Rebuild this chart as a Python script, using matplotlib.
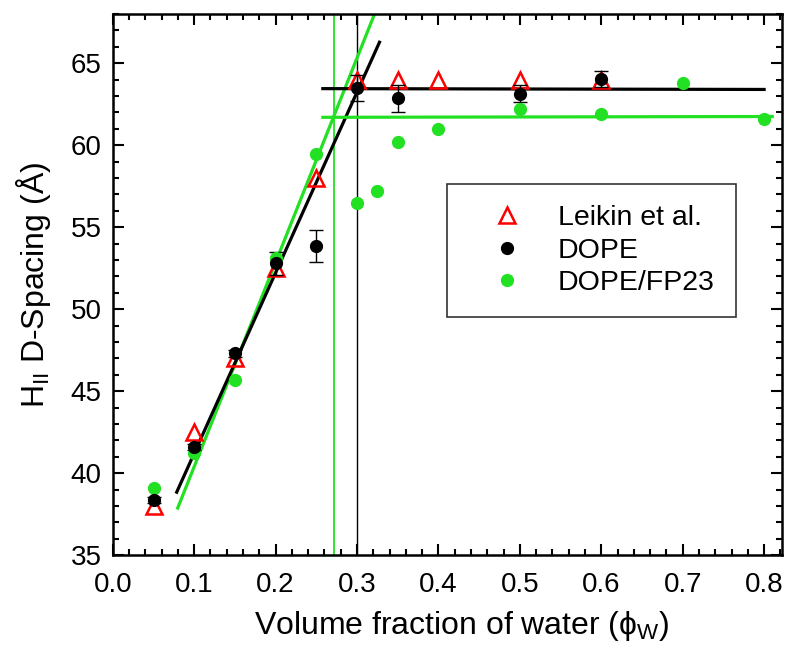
import numpy as np
import matplotlib
matplotlib.use("Agg")
import matplotlib.pyplot as plt
from matplotlib.ticker import MultipleLocator, FormatStrFormatter
from matplotlib.lines import Line2D

plt.rcParams['font.family'] = ['Liberation Sans', 'DejaVu Sans']
plt.rcParams['mathtext.fontset'] = 'custom'
plt.rcParams['mathtext.rm'] = 'Liberation Sans'
plt.rcParams['mathtext.it'] = 'Liberation Sans:italic'

# Leikin et al.
leikin_x = [0.05, 0.10, 0.15, 0.20, 0.25, 0.30, 0.35, 0.40, 0.50, 0.60]
leikin_y = [38.0, 42.5, 47.0, 52.5, 58.0, 64.0, 64.0, 64.0, 64.0, 64.0]

# DOPE
dope_x = [0.05, 0.10, 0.15, 0.20, 0.25, 0.30, 0.35, 0.50, 0.60]
dope_y = [38.35, 41.6, 47.3, 52.8, 53.85, 63.5, 62.85, 63.15, 64.05]
dope_err = [0.2, 0.2, 0.2, 0.7, 1.0, 0.8, 0.85, 0.5, 0.5]

# DOPE/FP23
fp_x = [0.05, 0.10, 0.15, 0.20, 0.25, 0.30, 0.325, 0.35, 0.40, 0.50, 0.60, 0.70, 0.80]
fp_y = [39.1, 41.2, 45.7, 53.1, 59.45, 56.45, 57.2, 60.2, 61.0, 62.2, 61.9, 63.8, 61.6]

# fitted lines (endpoints)
dope_fit_x = [0.0785, 0.3276]
dope_fit_y = [38.84, 66.28]
fp_fit_x = [0.0797, 0.3215]
fp_fit_y = [37.87, 68.0]
dope_flat_x = [0.258, 0.80]
dope_flat_y = [63.45, 63.4]
fp_flat_x = [0.258, 0.81]
fp_flat_y = [61.7, 61.75]
dope_vline = 0.30
fp_vline = 0.272

green = '#22e022'

fig = plt.figure(figsize=(8, 6.68), dpi=100)
ax = fig.add_axes([0.141, 0.169, 0.8365, 0.81])

ax.axvline(fp_vline, color=green, lw=1.3)
ax.axvline(dope_vline, color='black', lw=1.0)
ax.plot(fp_fit_x, fp_fit_y, color=green, lw=2.3)
ax.plot(dope_fit_x, dope_fit_y, color='black', lw=2.3)
ax.plot(fp_flat_x, fp_flat_y, color=green, lw=2.3)
ax.plot(dope_flat_x, dope_flat_y, color='black', lw=2.3)

ax.plot(leikin_x, leikin_y, linestyle='none', marker='^', ms=12, mfc='none',
        mec='red', mew=1.8)
ax.errorbar(dope_x, dope_y, yerr=dope_err, fmt='o', color='black', ms=8.5,
            capsize=5, elinewidth=1, capthick=1)
ax.plot(fp_x, fp_y, linestyle='none', marker='o', ms=8.5, color=green)

ax.set_xlim(0, 0.822)
ax.set_ylim(35, 68)
ax.xaxis.set_major_locator(MultipleLocator(0.1))
ax.xaxis.set_minor_locator(MultipleLocator(0.02))
ax.yaxis.set_major_locator(MultipleLocator(5))
ax.yaxis.set_minor_locator(MultipleLocator(1))
ax.xaxis.set_major_formatter(FormatStrFormatter('%.1f'))
ax.tick_params(which='both', direction='in', top=True, right=True, labelsize=20,
               width=1.5)
ax.tick_params(which='major', length=8)
ax.tick_params(which='minor', length=4)
ax.tick_params(axis='x', which='major', pad=12)
ax.tick_params(axis='y', which='major', pad=8)
for s in ax.spines.values():
    s.set_linewidth(1.8)

ax.set_xlabel('Volume fraction of water (ϕ$_{\\rm W}$)', fontsize=23, labelpad=5)
ax.xaxis.set_label_coords(0.522, -0.1)
ax.xaxis.label.set_va('top')
ax.set_ylabel('H$_{\\rm II}$ D-Spacing (Å)', fontsize=23, labelpad=13)

handles = [
    Line2D([], [], linestyle='none', marker='^', ms=12, mfc='none', mec='red', mew=1.8),
    Line2D([], [], linestyle='none', marker='o', ms=8.5, color='black'),
    Line2D([], [], linestyle='none', marker='o', ms=8.5, color=green),
]
labels = ['Leikin et al.', 'DOPE', 'DOPE/FP23']
leg = ax.legend(handles, labels, loc='upper left', bbox_to_anchor=(0.50, 0.686),
                fontsize=20.5, frameon=True, fancybox=False, edgecolor='black',
                handletextpad=0.42, borderpad=0.75, labelspacing=0.22,
                handlelength=2.7, borderaxespad=0)
leg.get_frame().set_linewidth(1.2)

fig.savefig('out.png', dpi=100)
